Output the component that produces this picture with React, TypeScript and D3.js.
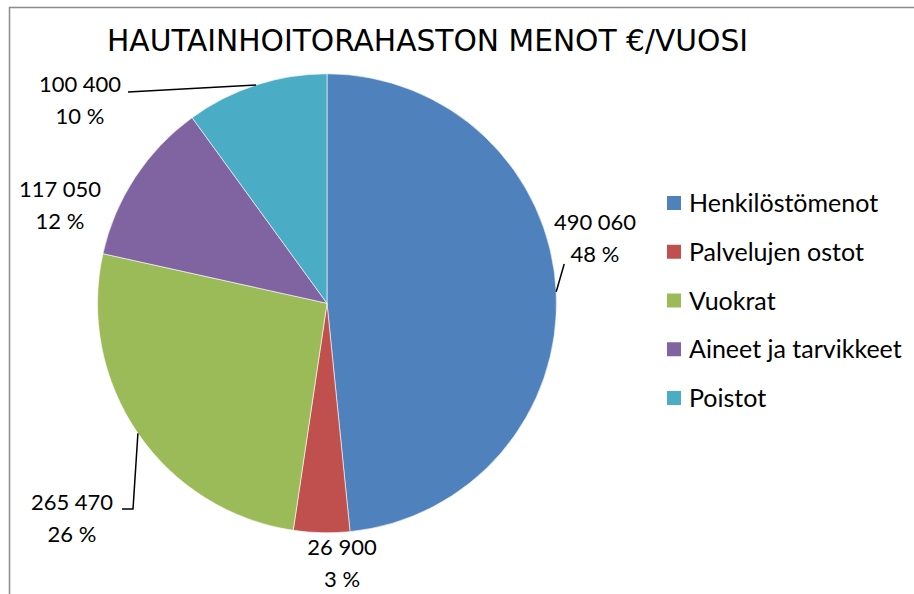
import * as d3 from "d3";
import { useEffect, useRef } from "react";

const categories = ["Henkilöstömenot", "Palvelujen ostot", "Vuokrat", "Aineet ja tarvikkeet", "Poistot"];
// slice sizes as drawn in the picture (measured from the slice angles)
const sliceValues = [484000, 39500, 261200, 115300, 100000];
// data labels as printed on the chart
const valueLabels = ["490 060", "26 900", "265 470", "117 050", "100 400"];
const percentLabels = ["48 %", "3 %", "26 %", "12 %", "10 %"];
const colors = ["#4F81BD", "#C0504D", "#9BBB59", "#8064A2", "#4BACC6"];

// label centre x / first-line baseline, and whether a leader line is drawn
const labelPos = [
  { x: 595, y: 230, leader: true },
  { x: 342, y: 555, leader: false },
  { x: 72, y: 510, leader: true },
  { x: 60, y: 197, leader: false },
  { x: 80, y: 92, leader: true },
];

const W = 914;
const H = 594;

export default function App() {
  const svgRef = useRef<SVGSVGElement | null>(null);

  useEffect(() => {
    const svg = d3.select(svgRef.current);
    svg.selectAll("*").remove();

    const cx = 327;
    const cy = 303.3;
    const r = 229.5;

    // chart area frame (cut off at right and bottom)
    svg.append("rect").attr("width", W).attr("height", H).attr("fill", "#fff");
    svg
      .append("path")
      .attr("d", `M9.5,${H} V7.5 H${W}`)
      .attr("fill", "none")
      .attr("stroke", "#8c8c8c")
      .attr("stroke-width", 1.5);

    svg
      .append("text")
      .attr("x", 427.5)
      .attr("y", 51)
      .attr("text-anchor", "middle")
      .attr("textLength", 641)
      .attr("lengthAdjust", "spacingAndGlyphs")
      .style("font-family", "'Liberation Sans Narrow', 'DejaVu Sans Condensed', sans-serif")
      .style("font-size", "31px")
      .attr("fill", "#000")
      .text("HAUTAINHOITORAHASTON MENOT €/VUOSI");

    const pie = d3.pie<number>().sort(null).value((d) => d);
    const arcs = pie(sliceValues);
    const arc = d3.arc<d3.PieArcDatum<number>>().innerRadius(0).outerRadius(r);

    const g = svg.append("g").attr("transform", `translate(${cx},${cy})`);
    g.selectAll("path")
      .data(arcs)
      .join("path")
      .attr("d", arc)
      .attr("fill", (_, i) => colors[i])
      .attr("stroke", "#fff")
      .attr("stroke-width", 0.6);

    // leader lines from slice edge to label
    arcs.forEach((a, i) => {
      const p = labelPos[i];
      if (!p.leader) return;
      const mid = (a.startAngle + a.endAngle) / 2;
      const ex = cx + r * Math.sin(mid);
      const ey = cy - r * Math.cos(mid);
      let d = "";
      if (i === 0) d = `M${ex},${ey} L${ex + 8},${p.y + 34}`;
      else if (i === 2) d = `M${ex},${ey} L${p.x + 61},${p.y - 1} L${p.x + 50},${p.y - 1}`;
      else d = `M${ex},${ey} L${p.x + 48},${p.y}`;
      svg
        .append("path")
        .attr("d", d)
        .attr("fill", "none")
        .attr("stroke", "#000")
        .attr("stroke-width", 1.5);
    });

    const labels = svg
      .append("g")
      .style("font-family", "Lato, 'Open Sans', sans-serif")
      .style("font-size", "22px")
      .attr("fill", "#000")
      .attr("text-anchor", "middle");
    labelPos.forEach((p, i) => {
      labels.append("text").attr("x", p.x).attr("y", p.y).text(valueLabels[i]);
      labels.append("text").attr("x", p.x).attr("y", p.y + 32).text(percentLabels[i]);
    });

    // legend
    const legendY = d3.scalePoint<string>().domain(categories).range([203, 398]);
    const legend = svg.append("g");
    categories.forEach((c, i) => {
      const y = legendY(c)!;
      legend
        .append("rect")
        .attr("x", 667)
        .attr("y", y - 7)
        .attr("width", 14)
        .attr("height", 14)
        .attr("fill", colors[i]);
      legend
        .append("text")
        .attr("x", 689)
        .attr("y", y + 9)
        .style("font-family", "Lato, 'Open Sans', sans-serif")
        .style("font-size", "25px")
        .attr("fill", "#000")
        .text(c);
    });
  }, []);

  return (
    <div style={{ position: "absolute", left: 0, top: 0, width: W, height: H, overflow: "hidden" }}>
      <svg ref={svgRef} width={W} height={H} style={{ display: "block" }} />
    </div>
  );
}
